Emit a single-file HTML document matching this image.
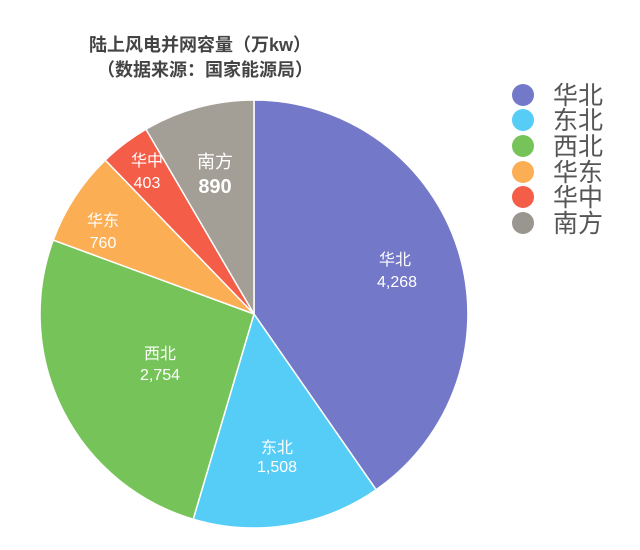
<!DOCTYPE html>
<html><head><meta charset="utf-8"><style>
html,body{margin:0;padding:0;background:#fff;}
svg{display:block;}
text{font-family:"Liberation Sans","Noto Sans CJK SC",sans-serif;}
</style></head><body>
<svg width="640" height="550" viewBox="0 0 640 550" xmlns="http://www.w3.org/2000/svg">
<rect width="640" height="550" fill="#fff"/>
<text x="200" y="51" text-anchor="middle" font-size="18" font-weight="bold" fill="#444">陆上风电并网容量（万kw）</text>
<text x="205" y="76" text-anchor="middle" font-size="18" font-weight="bold" fill="#444">（数据来源：国家能源局）</text>
<g stroke="#fff" stroke-width="1.5">
<path d="M254,314 L254,100 A214,214 0 0 1 376.1,489.7 Z" fill="#7378c8"/>
<path d="M254,314 L376.1,489.7 A214,214 0 0 1 193.2,519.2 Z" fill="#55cdf6"/>
<path d="M254,314 L193.2,519.2 A214,214 0 0 1 53.2,240.1 Z" fill="#76c459"/>
<path d="M254,314 L53.2,240.1 A214,214 0 0 1 105.3,160.1 Z" fill="#fcae55"/>
<path d="M254,314 L105.3,160.1 A214,214 0 0 1 146,129.2 Z" fill="#f45d47"/>
<path d="M254,314 L146,129.2 A214,214 0 0 1 254,100 Z" fill="#a39e96"/>
</g>
<g fill="#fff" font-size="16" text-anchor="middle">
<text x="395" y="265">华北</text><text x="397" y="287">4,268</text>
<text x="277" y="453">东北</text><text x="277" y="472">1,508</text>
<text x="160" y="359">西北</text><text x="160" y="380">2,754</text>
<text x="103" y="226">华东</text><text x="103" y="248">760</text>
<text x="147" y="166">华中</text><text x="147" y="188">403</text>
<text x="215" y="168" font-size="18">南方</text><text x="215" y="193" font-size="20" font-weight="bold">890</text>
</g>
<g font-size="25" fill="#555">
<circle cx="523" cy="95" r="11" fill="#7378c8"/><text x="553" y="104">华北</text>
<circle cx="523" cy="120" r="11" fill="#55cdf6"/><text x="553" y="129">东北</text>
<circle cx="523" cy="146" r="11" fill="#76c459"/><text x="553" y="155">西北</text>
<circle cx="523" cy="172" r="11" fill="#fcae55"/><text x="553" y="181">华东</text>
<circle cx="523" cy="197" r="11" fill="#f45d47"/><text x="553" y="206">华中</text>
<circle cx="523" cy="223" r="11" fill="#99958f"/><text x="553" y="232">南方</text>
</g>
</svg>
</body></html>
